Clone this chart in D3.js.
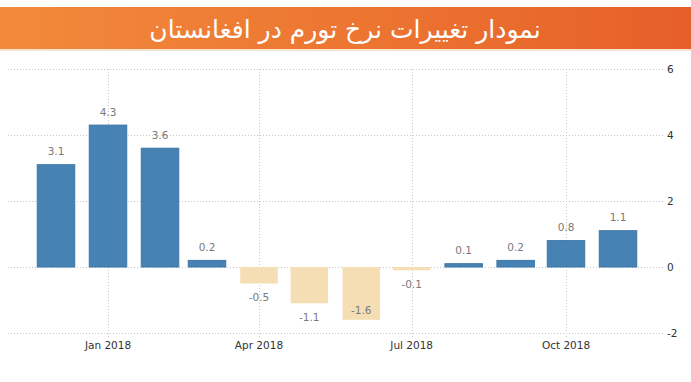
<!DOCTYPE html>
<html>
<head>
<meta charset="utf-8">
<script src="https://cdn.jsdelivr.net/npm/d3@7"></script>
<style>
  body { margin: 0; background: #fff; }
  svg { display: block; }
</style>
</head>
<body>
<svg id="chart"></svg>
<script>
// data
const titleText = "نمودار تغییرات نرخ تورم در افغانستان";
const months = ["2017-12", "2018-01", "2018-02", "2018-03", "2018-04", "2018-05",
  "2018-06", "2018-07", "2018-08", "2018-09", "2018-10", "2018-11"];
const values = [3.1, 4.3, 3.6, 0.2, -0.5, -1.1, -1.6, -0.1, 0.1, 0.2, 0.8, 1.1];
const yTicks = [-2, 0, 2, 4, 6];
const xTickMonths = ["2018-01", "2018-04", "2018-07", "2018-10"];

const W = 691, H = 382;
const plot = { left: 8, right: 663, top: 69, bottom: 333 };

const parse = d3.timeParse("%Y-%m");
const data = months.map((m, i) => ({ date: parse(m), value: values[i] }));

const svg = d3.select("#chart").attr("width", W).attr("height", H);

// banner
const defs = svg.append("defs");
const grad = defs.append("linearGradient").attr("id", "banner").attr("x1", 0).attr("x2", 1);
grad.append("stop").attr("offset", "0%").attr("stop-color", "#f28a3b");
grad.append("stop").attr("offset", "55%").attr("stop-color", "#ec7431");
grad.append("stop").attr("offset", "100%").attr("stop-color", "#e65f29");

svg.append("rect").attr("x", 0).attr("y", 7).attr("width", W).attr("height", 42)
  .attr("fill", "url(#banner)");
svg.append("rect").attr("x", 0).attr("y", 49).attr("width", W).attr("height", 2)
  .attr("fill", "#fbe3d2");

svg.append("text")
  .attr("x", 345).attr("y", 38)
  .attr("text-anchor", "middle")
  .attr("direction", "rtl")
  .style("font-family", "'DejaVu Sans', sans-serif")
  .style("font-size", "25px")
  .style("fill", "#fff")
  .text(titleText);

// scales
const x = d3.scaleTime()
  .domain([parse("2018-01"), parse("2018-10")])
  .range([108, 566]);
const y = d3.scaleLinear().domain([-2, 6]).range([plot.bottom, plot.top]);
const barW = 37.5;

// grid
svg.append("g").selectAll("line.h").data(yTicks).join("line")
  .attr("x1", plot.left).attr("x2", plot.right)
  .attr("y1", d => Math.round(y(d)) + 0.5).attr("y2", d => Math.round(y(d)) + 0.5)
  .attr("stroke", "#c8c8c8").attr("stroke-dasharray", "1,2");

svg.append("g").selectAll("line.v").data(xTickMonths).join("line")
  .attr("x1", d => Math.round(x(parse(d))) + 0.5).attr("x2", d => Math.round(x(parse(d))) + 0.5)
  .attr("y1", plot.top).attr("y2", plot.bottom + 4)
  .attr("stroke", "#c8c8c8").attr("stroke-dasharray", "1,2");

// y axis labels
svg.append("g").selectAll("text").data(yTicks).join("text")
  .attr("x", 667).attr("y", d => y(d))
  .attr("dy", "0.35em")
  .style("font-family", "'DejaVu Sans', sans-serif")
  .style("font-size", "10.5px")
  .style("fill", "#333")
  .text(d => d);

// x axis labels
const fmt = d3.timeFormat("%b %Y");
svg.append("g").selectAll("text").data(xTickMonths).join("text")
  .attr("x", d => x(parse(d))).attr("y", 349)
  .attr("text-anchor", "middle")
  .style("font-family", "'DejaVu Sans', sans-serif")
  .style("font-size", "10.5px")
  .style("fill", "#333")
  .text(d => fmt(parse(d)));

// bars
svg.append("g").selectAll("rect").data(data).join("rect")
  .attr("x", d => x(d.date) - barW / 2)
  .attr("width", barW)
  .attr("y", d => y(Math.max(0, d.value)))
  .attr("height", d => Math.abs(y(d.value) - y(0)))
  .attr("fill", d => d.value >= 0 ? "#4682b4" : "#f5deb3")
  .attr("stroke", d => d.value >= 0 ? "#3f77a6" : "none")
  .attr("stroke-width", 1);

// value labels
svg.append("g").selectAll("text").data(data).join("text")
  .attr("x", d => x(d.date))
  .attr("y", d => {
    if (d.value >= 0) return y(d.value) - 13;
    const below = y(d.value) + 14;
    return below > plot.bottom - 6 ? y(d.value) - 9 : below;
  })
  .attr("dy", "0.35em")
  .attr("text-anchor", "middle")
  .style("font-family", "'DejaVu Sans', sans-serif")
  .style("font-size", "10.5px")
  .style("fill", "#7a7a7a")
  .text(d => d.value);
</script>
</body>
</html>
